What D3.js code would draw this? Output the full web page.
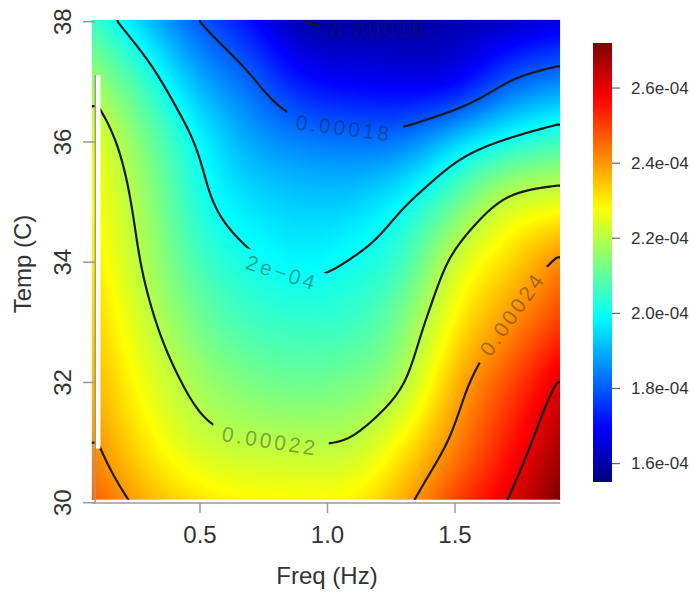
<!DOCTYPE html>
<html>
<head>
<meta charset="utf-8">
<script src="https://cdn.jsdelivr.net/npm/d3@7"></script>
<style>
  body { margin: 0; background: #fff; }
  svg { display: block; }
  text { font-family: "Liberation Sans", Arial, Helvetica, sans-serif; }
</style>
</head>
<body>
<svg id="chart" width="693" height="594"></svg>
<script>
// Grid of the fitted response surface: frequency (Hz) by temperature (°C)
const freqs = [0.1, 0.3, 0.5, 0.7, 0.9, 1.1, 1.3, 1.5, 1.7, 1.9];
const temps = [30, 31, 32, 33, 34, 35, 36, 37, 38];

// Fitted values in units of 1e-4, one row per temperature
const fitT30 = [2.46, 2.37, 2.315, 2.29, 2.285, 2.30, 2.38, 2.50, 2.60, 2.72];
const fitT31 = [2.40, 2.30, 2.23, 2.205, 2.20, 2.21, 2.295, 2.42, 2.54, 2.66];
const fitT32 = [2.36, 2.255, 2.175, 2.13, 2.115, 2.13, 2.20, 2.36, 2.48, 2.60];
const fitT33 = [2.33, 2.215, 2.12, 2.065, 2.05, 2.06, 2.14, 2.29, 2.40, 2.50];
const fitT34 = [2.30, 2.18, 2.07, 2.01, 1.985, 2.005, 2.07, 2.22, 2.32, 2.41];
const fitT35 = [2.275, 2.155, 2.025, 1.955, 1.93, 1.935, 1.99, 2.10, 2.21, 2.25];
const fitT36 = [2.245, 2.115, 1.985, 1.89, 1.845, 1.83, 1.845, 1.93, 2.01, 2.06];
const fitT37 = [2.16, 2.035, 1.90, 1.81, 1.72, 1.69, 1.68, 1.70, 1.795, 1.85];
const fitT38 = [2.05, 1.92, 1.80, 1.71, 1.605, 1.593, 1.588, 1.61, 1.63, 1.665];
const surface = [fitT30, fitT31, fitT32, fitT33, fitT34, fitT35, fitT36, fitT37, fitT38];
const unit = 1e-4;

// Extent covered by the image cells
const freqExtent = [0.076, 1.912];
const tempExtent = [30.05, 38.03];

// Contour levels and where their labels sit
const contourLevels = [1.6e-4, 1.8e-4, 2.0e-4, 2.2e-4, 2.4e-4, 2.6e-4];
const labelLevels = [1.6e-4, 1.8e-4, 2.0e-4, 2.2e-4, 2.4e-4];
const labelTexts = ["0.00016", "0.00018", "2e\u221204", "0.00022", "0.00024"];
const labelFreq = [1.2, 1.07, 0.83, 0.77, 1.73];
const labelTemp = [37.95, 36.3, 33.95, 31.0, 33.1];

// Axis ticks
const freqTicks = [0.5, 1.0, 1.5];
const freqTickLabels = ["0.5", "1.0", "1.5"];
const tempTicks = [30, 32, 34, 36, 38];
const tempTickLabels = ["30", "32", "34", "36", "38"];

// Colour key
const zRange = [1.551e-4, 2.72e-4];
const keyTicks = [1.6e-4, 1.8e-4, 2.0e-4, 2.2e-4, 2.4e-4, 2.6e-4];
const keyTickLabels = ["1.6e-04", "1.8e-04", "2.0e-04", "2.2e-04", "2.4e-04", "2.6e-04"];

const svg = d3.select("#chart");
const x = d3.scaleLinear().domain([0.5, 1.5]).range([200, 455]);
const y = d3.scaleLinear().domain([30, 38]).range([502.7, 21.7]);

// Jet colour ramp across the value range
const jetStops = [0, 0.125, 0.375, 0.625, 0.875, 1];
const jetColors = ["#00007f", "#0000ff", "#00ffff", "#ffff00", "#ff0000", "#7f0000"];
const color = d3.scaleLinear()
  .domain(jetStops.map(t => zRange[0] + t * (zRange[1] - zRange[0])))
  .range(jetColors)
  .interpolate(d3.interpolateRgb)
  .clamp(true);

// Natural cubic splines, used as a tensor product over the grid
function splineSecond(xs, ys) {
  const n = xs.length, M = new Array(n).fill(0);
  if (n < 3) return M;
  const a = [], b = [], c = [], d = [];
  for (let i = 1; i < n - 1; i++) {
    const h0 = xs[i] - xs[i - 1], h1 = xs[i + 1] - xs[i];
    a.push(h0 / 6); b.push((h0 + h1) / 3); c.push(h1 / 6);
    d.push((ys[i + 1] - ys[i]) / h1 - (ys[i] - ys[i - 1]) / h0);
  }
  const m = b.length;
  for (let i = 1; i < m; i++) {
    const w = a[i] / b[i - 1];
    b[i] -= w * c[i - 1]; d[i] -= w * d[i - 1];
  }
  const sol = new Array(m);
  sol[m - 1] = d[m - 1] / b[m - 1];
  for (let i = m - 2; i >= 0; i--) sol[i] = (d[i] - c[i] * sol[i + 1]) / b[i];
  for (let i = 0; i < m; i++) M[i + 1] = sol[i];
  return M;
}
function splineEval(xs, ys, M, xv) {
  const n = xs.length;
  xv = Math.max(xs[0], Math.min(xs[n - 1], xv));
  let i = 0;
  while (i < n - 2 && xv > xs[i + 1]) i++;
  const h = xs[i + 1] - xs[i];
  const A = (xs[i + 1] - xv) / h, B = (xv - xs[i]) / h;
  return A * ys[i] + B * ys[i + 1] + ((A * A * A - A) * M[i] + (B * B * B - B) * M[i + 1]) * h * h / 6;
}
const rowM = surface.map(r => splineSecond(freqs, r));
function columnAt(f) {
  const vals = surface.map((r, j) => splineEval(freqs, r, rowM[j], f));
  const M = splineSecond(temps, vals);
  return T => splineEval(temps, vals, M, T) * unit;
}

const hx0 = x(freqExtent[0]), hx1 = x(freqExtent[1]);
const hy0 = y(tempExtent[1]), hy1 = y(tempExtent[0]);

// Heat map, painted pixel by pixel
const cw = Math.round(hx1 - hx0), ch = Math.round(hy1 - hy0);
const canvas = document.createElement("canvas");
canvas.width = cw; canvas.height = ch;
const ctx = canvas.getContext("2d");
const img = ctx.createImageData(cw, ch);
for (let px = 0; px < cw; px++) {
  const col = columnAt(x.invert(hx0 + (px + 0.5) * (hx1 - hx0) / cw));
  for (let py = 0; py < ch; py++) {
    const c = d3.rgb(color(col(y.invert(hy0 + (py + 0.5) * (hy1 - hy0) / ch))));
    const k = (py * cw + px) * 4;
    img.data[k] = c.r; img.data[k + 1] = c.g; img.data[k + 2] = c.b; img.data[k + 3] = 255;
  }
}
ctx.putImageData(img, 0, 0);

const defs = svg.append("defs");
defs.append("clipPath").attr("id", "plotClip")
  .append("rect").attr("x", hx0).attr("y", hy0).attr("width", hx1 - hx0).attr("height", hy1 - hy0);

svg.append("image")
  .attr("href", canvas.toDataURL())
  .attr("x", hx0).attr("y", hy0)
  .attr("width", hx1 - hx0).attr("height", hy1 - hy0)
  .attr("preserveAspectRatio", "none");

// Contour lines from a fine sampling of the surface
const nx = Math.round((hx1 - hx0) / 2) + 1, ny = Math.round((hy1 - hy0) / 2) + 1;
const fine = new Float64Array(nx * ny);
for (let i = 0; i < nx; i++) {
  const col = columnAt(freqExtent[0] + i * (freqExtent[1] - freqExtent[0]) / (nx - 1));
  for (let j = 0; j < ny; j++) {
    fine[j * nx + i] = col(tempExtent[1] - j * (tempExtent[1] - tempExtent[0]) / (ny - 1));
  }
}
const contours = d3.contours().size([nx, ny]).thresholds(contourLevels)(fine);
const toPx = p => [hx0 + (p[0] - 0.5) * (hx1 - hx0) / (nx - 1), hy0 + (p[1] - 0.5) * (hy1 - hy0) / (ny - 1)];
function onEdge(a, b) {
  return (a[0] === 0 && b[0] === 0) || (a[0] === nx && b[0] === nx) ||
         (a[1] === 0 && b[1] === 0) || (a[1] === ny && b[1] === ny);
}
// Split polygon rings into open lines, dropping the stretches along the grid border
const isolines = [];
contours.forEach(mp => {
  mp.coordinates.forEach(poly => poly.forEach(ring => {
    const pieces = [];
    let cur = [ring[0]];
    for (let k = 1; k < ring.length; k++) {
      if (onEdge(ring[k - 1], ring[k])) {
        if (cur.length > 1) pieces.push(cur);
        cur = [ring[k]];
      } else cur.push(ring[k]);
    }
    if (cur.length > 1) pieces.push(cur);
    if (pieces.length > 1 && !onEdge(ring[0], ring[1]) && !onEdge(ring[ring.length - 2], ring[ring.length - 1])) {
      const last = pieces.pop();
      pieces[0] = last.concat(pieces[0].slice(1));
    }
    pieces.forEach(pc => isolines.push({ value: mp.value, points: pc.map(toPx) }));
  }));
});

// Label placement: nearest point on the matching contour, turned along its chord
const fontSize = 21;
const labelLayer = svg.append("g").attr("clip-path", "url(#plotClip)");
const placed = [];
const dist = (a, b) => Math.hypot(a[0] - b[0], a[1] - b[1]);
labelLevels.forEach((lv, li) => {
  const tx = x(labelFreq[li]), ty = y(labelTemp[li]);
  let best = null, bestD = Infinity;
  isolines.filter(l => Math.abs(l.value - lv) < 1e-12).forEach(l => {
    l.points.forEach((p, k) => {
      const d = (p[0] - tx) ** 2 + (p[1] - ty) ** 2;
      if (d < bestD) { bestD = d; best = { line: l.points, k }; }
    });
  });
  if (!best) return;
  const t = labelLayer.append("text")
    .attr("x", 0).attr("y", 0)
    .attr("text-anchor", "middle")
    .attr("dominant-baseline", "central")
    .attr("font-size", fontSize)
    .attr("letter-spacing", 3)
    .attr("fill", "#1e1e1e")
    .attr("fill-opacity", 0.42)
    .text(labelTexts[li]);
  const w = t.node().getBBox().width;
  const pts = best.line, k = best.k, p = pts[k];
  let i0 = k, i1 = k;
  while (i0 > 0 && dist(pts[i0], p) < w / 2 + 8) i0--;
  while (i1 < pts.length - 1 && dist(pts[i1], p) < w / 2 + 8) i1++;
  let ang = Math.atan2(pts[i1][1] - pts[i0][1], pts[i1][0] - pts[i0][0]) * 180 / Math.PI;
  if (ang > 90) ang -= 180;
  if (ang < -90) ang += 180;
  t.attr("transform", `translate(${p[0]},${p[1]}) rotate(${ang})`);
  placed.push({ x: p[0], y: p[1], ang, w });
});

// Gaps in the contour lines under the labels
const mask = defs.append("mask").attr("id", "gapMask").attr("maskUnits", "userSpaceOnUse")
  .attr("x", 0).attr("y", 0).attr("width", 693).attr("height", 594);
mask.append("rect").attr("width", 693).attr("height", 594).attr("fill", "#fff");
placed.forEach(l => {
  mask.append("rect")
    .attr("x", -l.w / 2 - 10).attr("y", -fontSize * 0.6)
    .attr("width", l.w + 20).attr("height", fontSize * 1.2)
    .attr("fill", "#000")
    .attr("transform", `translate(${l.x},${l.y}) rotate(${l.ang})`);
});

svg.insert("g", () => labelLayer.node())
  .attr("clip-path", "url(#plotClip)")
  .append("g")
  .attr("mask", "url(#gapMask)")
  .selectAll("path")
  .data(isolines)
  .join("path")
  .attr("d", d => d3.line()(d.points))
  .attr("fill", "none")
  .attr("stroke", "#1a1a1a")
  .attr("stroke-width", 2.2)
  .attr("stroke-linejoin", "round")
  .attr("stroke-linecap", "round");

// Axis lines and ticks
const axisColor = "#9a9a9a";
svg.append("rect").attr("x", 96).attr("y", 75).attr("width", 4.5).attr("height", y(30.9) - 75).attr("fill", "#fff");
svg.append("line").attr("x1", 95.3).attr("x2", 95.3).attr("y1", 75).attr("y2", 503)
  .attr("stroke", axisColor).attr("stroke-width", 1.5);
svg.append("line").attr("x1", hx0).attr("x2", hx1).attr("y1", 503).attr("y2", 503)
  .attr("stroke", axisColor).attr("stroke-width", 1.5);

svg.append("g").selectAll("line").data(tempTicks).join("line")
  .attr("x1", 83).attr("x2", 95).attr("y1", d => y(d)).attr("y2", d => y(d))
  .attr("stroke", axisColor).attr("stroke-width", 1.5);
svg.append("g").selectAll("text").data(tempTicks).join("text")
  .attr("transform", d => `translate(71,${y(d)}) rotate(-90)`)
  .attr("text-anchor", "middle")
  .attr("font-size", 24).attr("fill", "#333")
  .text((d, i) => tempTickLabels[i]);

svg.append("g").selectAll("line").data(freqTicks).join("line")
  .attr("x1", d => x(d)).attr("x2", d => x(d)).attr("y1", 503).attr("y2", 513)
  .attr("stroke", axisColor).attr("stroke-width", 1.5);
svg.append("g").selectAll("text").data(freqTicks).join("text")
  .attr("x", d => x(d)).attr("y", 543)
  .attr("text-anchor", "middle")
  .attr("font-size", 24).attr("fill", "#333")
  .text((d, i) => freqTickLabels[i]);

svg.append("text").attr("x", 327).attr("y", 584).attr("text-anchor", "middle")
  .attr("font-size", 24).attr("fill", "#333").text("Freq (Hz)");
svg.append("text").attr("transform", "translate(31,264) rotate(-90)").attr("text-anchor", "middle")
  .attr("font-size", 24).attr("fill", "#333").text("Temp (C)");

// Colour key
const keyX = 593, keyW = 19;
const ky = d3.scaleLinear().domain(zRange).range([482, 43]);
const grad = defs.append("linearGradient").attr("id", "keyGrad")
  .attr("x1", 0).attr("y1", 1).attr("x2", 0).attr("y2", 0);
d3.range(0, 1.0001, 0.02).forEach(t => {
  grad.append("stop").attr("offset", t)
    .attr("stop-color", color(zRange[0] + t * (zRange[1] - zRange[0])));
});
svg.append("rect").attr("x", keyX).attr("y", ky(zRange[1]))
  .attr("width", keyW).attr("height", ky(zRange[0]) - ky(zRange[1]))
  .attr("fill", "url(#keyGrad)");
svg.append("g").selectAll("line").data(keyTicks).join("line")
  .attr("x1", keyX + keyW).attr("x2", keyX + keyW + 8)
  .attr("y1", d => ky(d)).attr("y2", d => ky(d))
  .attr("stroke", "#666").attr("stroke-width", 1.2);
svg.append("g").selectAll("text").data(keyTicks).join("text")
  .attr("x", keyX + keyW + 19).attr("y", d => ky(d))
  .attr("dominant-baseline", "central")
  .attr("font-size", 17).attr("fill", "#333")
  .text((d, i) => keyTickLabels[i]);
</script>
</body>
</html>
